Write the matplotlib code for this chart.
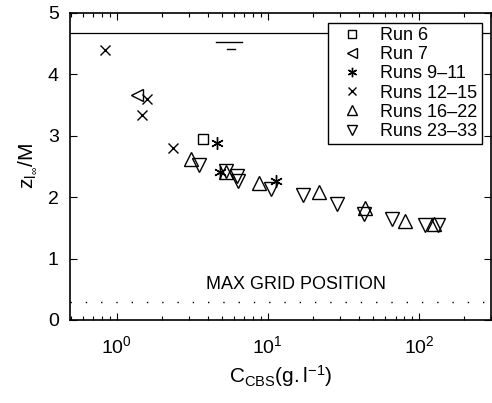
import numpy as np
import matplotlib
matplotlib.use("Agg")
import matplotlib.pyplot as plt
from matplotlib.ticker import LogLocator, NullFormatter

plt.rcParams["font.family"] = ["Liberation Sans", "DejaVu Sans"]
plt.rcParams["mathtext.fontset"] = "custom"
plt.rcParams["mathtext.rm"] = "Liberation Sans"
plt.rcParams["mathtext.it"] = "Liberation Sans"
plt.rcParams["mathtext.default"] = "regular"

# Data (C_CBS in g/l, z/M).
run6_c = [3.72]
run6_z = [2.94]

run7_c = [1.355]
run7_z = [3.67]

runs9_11_c = [4.63, 4.80, 11.3]
runs9_11_z = [2.88, 2.41, 2.27]

runs12_15_c = [0.84, 1.58, 1.46, 2.36]
runs12_15_z = [4.40, 3.60, 3.34, 2.80]

runs16_22_c = [3.12, 5.31, 8.71, 21.7, 44.0, 80.7, 125.0]
runs16_22_z = [2.62, 2.41, 2.23, 2.08, 1.83, 1.61, 1.56]

runs23_33_c = [3.50, 5.31, 6.24, 6.38, 10.5, 17.2, 28.9, 43.3, 65.9, 109.0, 134.0]
runs23_33_z = [2.52, 2.42, 2.35, 2.27, 2.14, 2.03, 1.89, 1.73, 1.65, 1.54, 1.54]

# Reference levels.
z_top = 4.67
z_grid = 0.3
mark_long_c = [4.56, 6.80]
mark_long_z = [4.53, 4.53]
mark_short_c = [5.39, 6.09]
mark_short_z = [4.42, 4.42]

series = [
    (run6_c, run6_z, "s", 7, "Run 6"),
    (run7_c, run7_z, "<", 9, "Run 7"),
    (runs9_11_c, runs9_11_z, (6, 2, 0), 9, "Runs 9\u201311"),
    (runs12_15_c, runs12_15_z, "x", 7, "Runs 12\u201315"),
    (runs16_22_c, runs16_22_z, "^", 10, "Runs 16\u201322"),
    (runs23_33_c, runs23_33_z, "v", 10, "Runs 23\u201333"),
]

fig = plt.figure(figsize=(4.92, 4.03), dpi=100)
ax = fig.add_axes([0.142, 0.206, 0.856, 0.762])

for c, z, mk, ms, lab in series:
    ax.plot(c, z, linestyle="none", marker=mk, markersize=ms,
            markerfacecolor="none", markeredgecolor="black",
            markeredgewidth=1.0, label=lab)

ax.axhline(z_top, color="black", linewidth=0.9)
ax.axhline(z_grid, color="black", linewidth=1.0, linestyle=(0, (1, 10)))
ax.plot(mark_long_c, mark_long_z, color="black", linewidth=1.0)
ax.plot(mark_short_c, mark_short_z, color="black", linewidth=1.0)
ax.text(15.4, 0.57, "MAX GRID POSITION", fontsize=13,
        ha="center", va="center")

ax.set_xscale("log")
ax.set_xlim(0.49, 300)
ax.set_ylim(0, 5)
ax.set_yticks([0, 1, 2, 3, 4, 5])
ax.xaxis.set_minor_locator(LogLocator(base=10, subs=np.arange(2, 10)))
ax.xaxis.set_minor_formatter(NullFormatter())

ax.tick_params(which="both", direction="in", top=True, right=True,
               labelsize=14, width=0.8)
ax.tick_params(which="major", length=5, pad=8)
ax.tick_params(which="minor", length=3)
ax.tick_params(axis="x", which="major", pad=11)
for s in ax.spines.values():
    s.set_linewidth(1.2)

ax.set_xlabel(r"$C_{CBS}(g.l^{-1})$", fontsize=15, labelpad=4)
ax.set_ylabel(r"$z_{l_{\infty}}/M$", fontsize=15, labelpad=6)

leg = ax.legend(loc="upper right", bbox_to_anchor=(0.979, 0.944),
                bbox_transform=fig.transFigure, fontsize=13,
                markerscale=0.75, handlelength=2.15, handletextpad=0.45,
                labelspacing=0.12, borderpad=0.25, borderaxespad=0,
                fancybox=False, framealpha=1, edgecolor="black")
leg.get_frame().set_linewidth(1.0)

fig.savefig("out.png", dpi=100)
